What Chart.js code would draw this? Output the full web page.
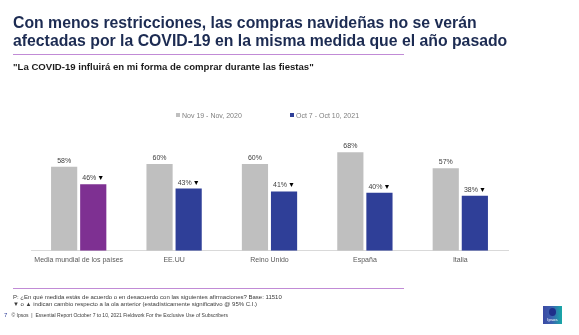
<!DOCTYPE html>
<html lang="es">
<head>
<meta charset="utf-8">
<script src="https://cdn.jsdelivr.net/npm/chart.js@4/dist/chart.umd.min.js"></script>
<style>
  html, body { margin: 0; padding: 0; background: #ffffff; }
  #page { position: relative; width: 579px; height: 335px; overflow: hidden; font-family: "Liberation Sans", Arial, sans-serif; }
  #chart { position: absolute; left: 0; top: 0; }
  .t { position: absolute; white-space: nowrap; }
  .title { left: 13px; font-size: 15.8px; line-height: 15.8px; font-weight: bold; color: #1c2b52; }
  .sub { left: 13px; top: 61.5px; font-size: 9.6px; line-height: 9.6px; font-weight: bold; color: #1c1c1c; }
  .rule { position: absolute; left: 13px; width: 391px; height: 1.5px; background: #c18bd6; }
  .foot { left: 13px; font-size: 6px; line-height: 6px; color: #3a3a3a; }
  .foot3 { left: 4px; font-size: 5px; line-height: 5px; color: #3a3a3a; }
  .legend { position: absolute; top: 112px; font-size: 7px; line-height: 8px; color: #7f7f7f; white-space: nowrap; }
  .legend i { display: inline-block; width: 4px; height: 4px; margin-right: 2px; vertical-align: 1px; }
  #logo { position: absolute; left: 543px; top: 306px; width: 19px; height: 18px;
          background: linear-gradient(90deg, #3b4aa3 0%, #3c5fb0 45%, #17a9a6 100%); }
  #logo .dot { position: absolute; left: 6px; top: 2px; width: 7px; height: 8px; border-radius: 50%; background: #1f2f8a; }
  #logo span { position: absolute; left: 1px; top: 11px; width: 17px; text-align: center; font-size: 4.3px; color: #ffffff; }
</style>
</head>
<body>
<div id="page">
  <canvas id="chart" width="579" height="335"></canvas>

  <div class="t title" style="top:14.5px">Con menos restricciones, las compras navideñas no se verán</div>
  <div class="t title" style="top:32.5px">afectadas por la COVID-19 en la misma medida que el año pasado</div>
  <div class="rule" style="top:53.5px"></div>
  <div class="t sub">"La COVID-19 influirá en mi forma de comprar durante las fiestas"</div>

  <div class="legend" style="left:176px"><i style="background:#bfbfbf"></i>Nov 19 - Nov, 2020</div>
  <div class="legend" style="left:290px"><i style="background:#2f3f98"></i>Oct 7 - Oct 10, 2021</div>

  <div class="rule" style="top:287.5px"></div>
  <div class="t foot" style="top:293.5px">P: ¿En qué medida estás de acuerdo o en desacuerdo con las siguientes afirmaciones? Base: 11510</div>
  <div class="t foot" style="top:300.5px">▼ o ▲ indican cambio respecto a la ola anterior (estadísticamente significativo @ 95% C.I.)</div>
  <div class="t foot3" style="top:312.5px"><span style="color:#2f3f98;font-size:6px">7</span>&nbsp;&nbsp;&nbsp;© Ipsos &nbsp;|&nbsp; Essential Report October 7 to 10, 2021 Fieldwork For the Exclusive Use of Subscribers</div>

  <div id="logo"><div class="dot"></div><span>Ipsos</span></div>
</div>

<script>
// Categories and the two survey waves (% who agree)
const categories = ["Media mundial de los países", "EE.UU", "Reino Unido", "España", "Italia"];
const seriesNames = ["Nov 19 - Nov, 2020", "Oct 7 - Oct 10, 2021"];
const wave2020 = [58, 60, 60, 68, 57];
const wave2021 = [46, 43, 41, 40, 38];
// Significant change vs. previous wave: "down", "up" or ""
const change2021 = ["down", "down", "down", "down", "down"];

const GREY = "#bfbfbf";
const BLUE = "#2f3f98";
const PURPLE = "#7e3092";

// Value labels above each bar, with the change arrow on the latest wave
const valueLabels = {
  id: "valueLabels",
  afterDatasetsDraw(chart) {
    const ctx = chart.ctx;
    ctx.save();
    ctx.font = '7px "Liberation Sans", Arial, sans-serif';
    ctx.textBaseline = "alphabetic";
    chart.data.datasets.forEach((ds, di) => {
      const meta = chart.getDatasetMeta(di);
      meta.data.forEach((bar, i) => {
        const txt = ds.data[i] + "%";
        const arrow = di === 1 ? (change2021[i] === "down" ? "▼" : change2021[i] === "up" ? "▲" : "") : "";
        const wT = ctx.measureText(txt).width;
        const wA = arrow ? ctx.measureText(arrow).width + 1 : 0;
        const x0 = bar.x - (wT + wA) / 2;
        const y = bar.y - 4;
        ctx.fillStyle = "#404040";
        ctx.textAlign = "left";
        ctx.fillText(txt, x0, y);
        if (arrow) {
          ctx.fillStyle = "#000000";
          ctx.fillText(arrow, x0 + wT + 1, y);
        }
      });
    });
    ctx.restore();
  }
};

new Chart(document.getElementById("chart"), {
  type: "bar",
  data: {
    labels: categories,
    datasets: [
      {
        label: seriesNames[0],
        data: wave2020,
        backgroundColor: GREY,
        categoryPercentage: 0.61,
        barPercentage: 0.9
      },
      {
        label: seriesNames[1],
        data: wave2021,
        backgroundColor: categories.map((c, i) => i === 0 ? PURPLE : BLUE),
        categoryPercentage: 0.61,
        barPercentage: 0.9
      }
    ]
  },
  plugins: [valueLabels],
  options: {
    responsive: false,
    animation: false,
    events: [],
    layout: { padding: { left: 31, right: 71, top: 135, bottom: 64.3 } },
    plugins: { legend: { display: false }, tooltip: { enabled: false } },
    scales: {
      x: {
        grid: { display: false, drawTicks: false },
        border: { display: true, color: "#d9d9d9", width: 1 },
        ticks: {
          color: "#595959",
          font: { family: '"Liberation Sans", Arial, sans-serif', size: 7 },
          padding: 5,
          maxRotation: 0,
          autoSkip: false
        },
        afterFit(scale) { scale.height = 20; }
      },
      y: {
        display: false,
        min: 0,
        max: 80
      }
    }
  }
});
</script>
</body>
</html>
